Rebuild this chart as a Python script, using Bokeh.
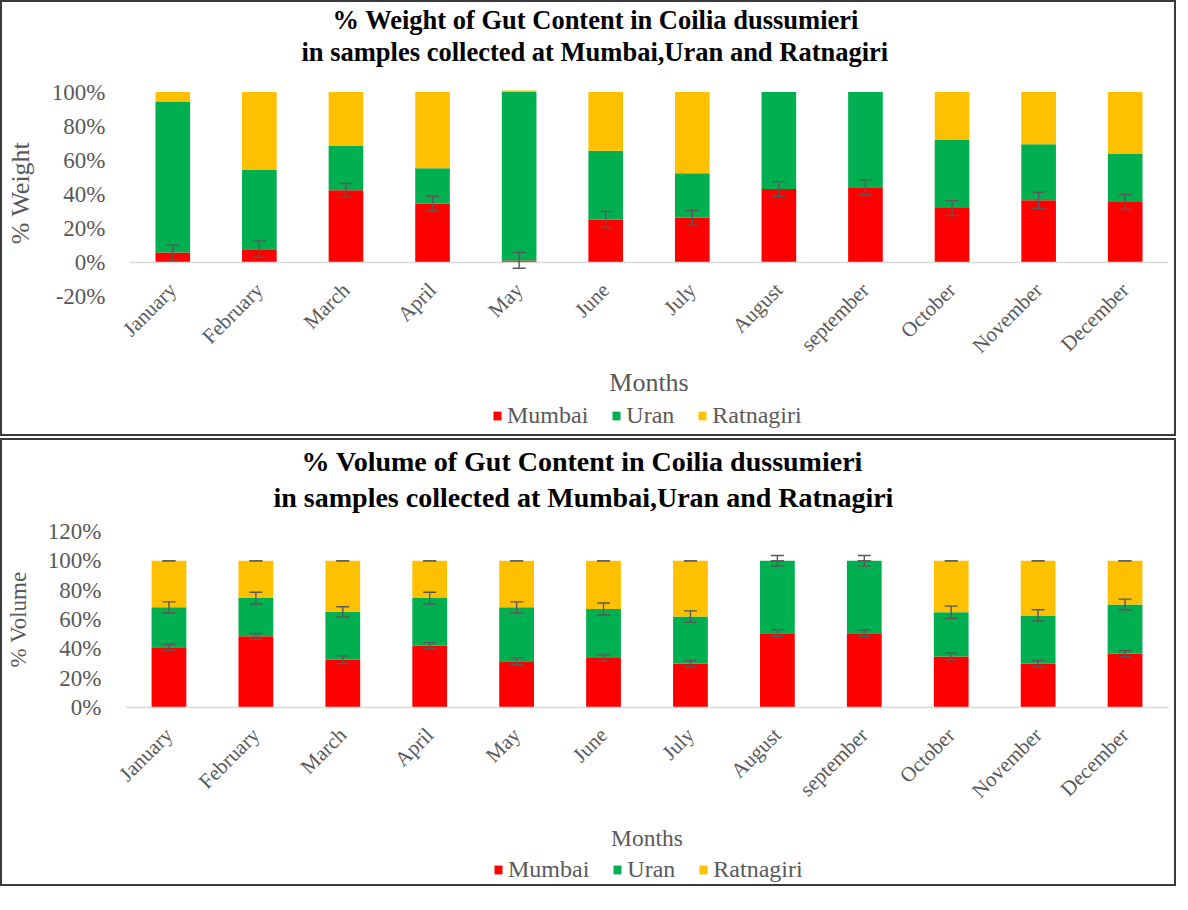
import math
from bokeh.plotting import figure
from bokeh.models import (ColumnDataSource, FactorRange, Range1d, Whisker, TeeHead, Span,
                          Title, Legend, LegendItem, SingleIntervalTicker, PrintfTickFormatter)
from bokeh.layouts import column
from bokeh.embed import file_html
from bokeh.resources import INLINE

months = ["January", "February", "March", "April", "May", "June", "July",
          "August", "september", "October", "November", "December"]
sites = ["Mumbai", "Uran", "Ratnagiri"]
colors = ["#FF0000", "#00B050", "#FFC000"]

# % Weight
w_mumbai = [5.8, 7.8, 42.3, 34.5, 1.2, 25.2, 26.2, 43.1, 44.1, 31.9, 36.5, 35.5]
w_uran = [88.7, 46.5, 26.0, 20.8, 98.8, 40.4, 26.2, 56.9, 55.9, 40.3, 32.8, 28.2]
w_ratnagiri = [5.5, 45.7, 31.7, 44.7, 0.9, 34.4, 47.6, 0.0, 0.0, 27.8, 30.7, 36.3]
w_mumbai_err = [4.3, 4.8, 4.0, 4.3, 4.6, 4.7, 4.3, 4.3, 4.4, 4.4, 4.7, 4.4]

# % Volume
v_mumbai = [41.1, 48.5, 32.6, 42.2, 31.5, 33.7, 29.8, 50.7, 50.7, 34.8, 29.8, 36.7]
v_uran = [27.2, 26.1, 32.6, 32.4, 36.8, 33.5, 32.2, 49.3, 49.3, 30.2, 33.0, 33.5]
v_ratnagiri = [31.7, 25.4, 34.8, 25.4, 31.7, 32.8, 38.0, 0.0, 0.0, 35.0, 37.2, 29.8]
v_mumbai_err = [2.0, 2.0, 2.6, 2.0, 2.4, 2.2, 2.2, 2.3, 2.3, 2.2, 2.2, 2.0]
v_uran_err = [3.7, 4.0, 3.5, 4.0, 3.7, 4.1, 3.9, 3.6, 3.6, 4.1, 3.8, 3.7]
v_ratnagiri_err = [0.0] * 12

title_w = ["% Weight of Gut Content in Coilia dussumieri",
           "in samples collected at Mumbai,Uran and Ratnagiri"]
title_v = ["% Volume of Gut Content in Coilia dussumieri",
           "in samples collected at Mumbai,Uran and Ratnagiri"]

FONT = "Liberation Serif"
GRAY = "#595959"
B = "2px solid #3a3a3a"
W = 1176


def sources(values):
    return ColumnDataSource(dict(m=months, Mumbai=values[0], Uran=values[1], Ratnagiri=values[2]))


def legend_fig(values, height, lx, ly):
    # frame of this strip is aligned with the chart above it; the stacked bars sit
    # outside its y range, only their legend entries are shown
    f = figure(width=W, height=height, x_range=FactorRange(*months), y_range=Range1d(1000, 1001),
               output_backend="svg", toolbar_location=None, title=None,
               x_axis_location=None, y_axis_location=None,
               min_border_left=0, min_border_right=0, min_border_top=0, min_border_bottom=0,
               outline_line_color=None,
               styles={"border-bottom": B, "border-left": B, "border-right": B})
    f.xgrid.visible = False
    f.ygrid.visible = False
    rs = f.vbar_stack(sites, x="m", width=0.4, color=colors, source=sources(values), line_color=None)
    leg = Legend(items=[LegendItem(label=s, renderers=[r]) for s, r in zip(sites, rs)],
                 orientation="horizontal", location=(lx, ly), padding=0, margin=0,
                 border_line_color=None, background_fill_alpha=0,
                 glyph_width=10, glyph_height=11, label_standoff=5, spacing=23,
                 label_text_font=FONT, label_text_font_size="24px", label_text_color=GRAY)
    f.add_layout(leg)
    return f


def whisker(p, tops, errs):
    src = ColumnDataSource(dict(m=months,
                                lo=[t - e for t, e in zip(tops, errs)],
                                hi=[t + e for t, e in zip(tops, errs)]))
    w = Whisker(source=src, base="m", lower="lo", upper="hi", dimension="height",
                line_color=GRAY, line_width=1.4, level="overlay",
                upper_head=TeeHead(size=13, line_color=GRAY, line_width=1.4),
                lower_head=TeeHead(size=13, line_color=GRAY, line_width=1.4))
    p.add_layout(w)


def main_fig(values, yr, height, mb_top, mb_bottom, ylabel, ylab_size, xlab_size,
             label_standoff, xlab_standoff, titles, t_offsets, t_size, t_standoffs, spacer):
    p = figure(x_range=FactorRange(*months), y_range=Range1d(*yr), width=W, height=height,
               output_backend="svg", toolbar_location=None, title=None,
               min_border_left=116, min_border_right=10,
               min_border_top=mb_top, min_border_bottom=mb_bottom,
               outline_line_color=None,
               styles={"border-top": B, "border-left": B, "border-right": B})
    p.vbar_stack(sites, x="m", width=0.4, color=colors, source=sources(values), line_color=None)
    p.xgrid.visible = False
    p.ygrid.visible = False

    ya = p.yaxis[0]
    ya.ticker = SingleIntervalTicker(interval=20)
    ya.formatter = PrintfTickFormatter(format="%d%%")
    ya.axis_line_color = None
    ya.major_tick_line_color = None
    ya.minor_tick_line_color = None
    ya.major_tick_out = 0
    ya.major_tick_in = 0
    ya.major_label_standoff = 20
    ya.major_label_text_font = FONT
    ya.major_label_text_font_size = "23px"
    ya.major_label_text_color = GRAY
    ya.axis_label = ylabel
    ya.axis_label_text_font = FONT
    ya.axis_label_text_font_size = ylab_size
    ya.axis_label_text_font_style = "normal"
    ya.axis_label_text_color = GRAY
    ya.axis_label_standoff = 14

    xa = p.xaxis[0]
    xa.major_label_orientation = math.pi / 4
    xa.major_tick_line_color = None
    xa.minor_tick_line_color = None
    xa.major_tick_out = 0
    xa.major_tick_in = 0
    xa.major_label_standoff = label_standoff
    xa.major_label_text_font = FONT
    xa.major_label_text_font_size = "21px"
    xa.major_label_text_color = GRAY
    xa.axis_label = "Months"
    xa.axis_label_text_font = FONT
    xa.axis_label_text_font_size = xlab_size
    xa.axis_label_text_font_style = "normal"
    xa.axis_label_text_color = GRAY
    xa.axis_label_standoff = xlab_standoff

    # title block: spacer next to the frame, then line 2, then line 1 on top
    p.add_layout(Title(text=" ", text_font_size="1px", standoff=spacer), "above")
    for t, off, st in [(titles[1], t_offsets[1], t_standoffs[1]),
                       (titles[0], t_offsets[0], t_standoffs[0])]:
        p.add_layout(Title(text=t, align="left", offset=off, standoff=st,
                           text_font=FONT, text_font_size=t_size, text_font_style="bold",
                           text_color="#000000"), "above")
    return p


# ---- top block: % Weight ----
p1 = main_fig([w_mumbai, w_uran, w_ratnagiri], (-20, 101.5), 400, 86, 106, "% Weight",
              "26px", "26px", -10, -1, title_w, (203, 172), "26.5px", (0, 0), 20)
p1.xaxis[0].axis_line_color = None
p1.add_layout(Span(location=0, dimension="width", line_color="#d9d9d9", line_width=1.5))
whisker(p1, w_mumbai, w_mumbai_err)
l1 = legend_fig([w_mumbai, w_uran, w_ratnagiri], 36, 363, 7)

# ---- bottom block: % Volume ----
p2 = main_fig([v_mumbai, v_uran, v_ratnagiri], (0, 120), 414, 91, 142, "% Volume",
              "23px", "23.5px", 24, 11, title_v, (176, 148), "28px", (6, 0), 16)
p2.xaxis[0].axis_line_color = "#d9d9d9"
p2.xaxis[0].axis_line_width = 1.5
v_top2 = [a + b for a, b in zip(v_mumbai, v_uran)]
v_top3 = [a + b + c for a, b, c in zip(v_mumbai, v_uran, v_ratnagiri)]
whisker(p2, v_mumbai, v_mumbai_err)
whisker(p2, v_top2, v_uran_err)
whisker(p2, v_top3, v_ratnagiri_err)
l2 = legend_fig([v_mumbai, v_uran, v_ratnagiri], 34, 368, 3)

layout = column(column(p1, l1, spacing=0), column(p2, l2, spacing=0), spacing=2)
open("out.html", "w").write(file_html(layout, INLINE))
